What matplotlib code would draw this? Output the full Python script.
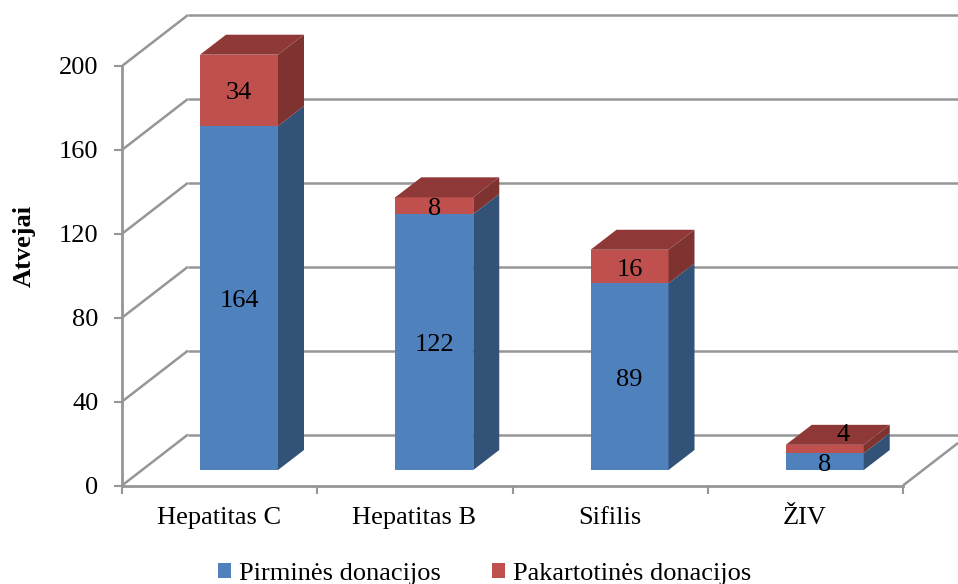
import matplotlib.pyplot as plt
from matplotlib.patches import Patch, Polygon

categories = ['Hepatitas C', 'Hepatitas B', 'Sifilis', 'ŽIV']
pirmines = [164, 122, 89, 8]
pakartotines = [34, 8, 16, 4]
y_ticks = [0, 40, 80, 120, 160, 200]

W, H = 958, 584
GRAY = '#969696'
BLUE, BLUE_SIDE = '#4F81BD', '#325278'
RED, RED_SIDE, RED_TOP = '#C0504D', '#7E3331', '#8E3937'

plt.rcParams['font.family'] = ['Liberation Serif', 'DejaVu Serif']
plt.rcParams['font.size'] = 19

fig = plt.figure(figsize=(W / 100, H / 100), dpi=100)
# front plane of the fake 3d box, in pixels of the reference
left, right, top, bottom = 122, 903, 66, 485.5
ax = fig.add_axes([left / W, 1 - bottom / H, (right - left) / W, (bottom - top) / H])
ax.set_xlim(0, len(categories))
ax.set_ylim(0, 200)

# pixel to data helpers for the oblique offsets
px_x = len(categories) / (right - left)
px_y = 200 / (bottom - top)

wall_dx, wall_dy = 66 * px_x, 51 * px_y
side_dx, side_dy = 26 * px_x, 20 * px_y
bar_x0, bar_w = 78 * px_x, 78 * px_x
bar_y0 = 15.5 * px_y
fig_right = (W - left) * px_x
text_shift = -3 * px_y

line_kw = dict(color=GRAY, lw=1.8, clip_on=False, zorder=1, solid_capstyle='butt')

# back wall gridlines and the slanted lines on the left wall
for t in y_ticks:
    ax.plot([0, wall_dx], [t, t + wall_dy], **line_kw)
    ax.plot([wall_dx, fig_right], [t + wall_dy, t + wall_dy], **line_kw)

# right edge of the floor
n = len(categories)
floor_end = fig_right - n
ax.plot([n, n + floor_end], [0, floor_end / wall_dx * wall_dy], **line_kw)


def face(points, color):
    ax.add_patch(Polygon(points, closed=True, fc=color, ec='none', clip_on=False, zorder=3))


def draw_segment(x, y0, y1, front, side):
    face([(x, y0), (x + bar_w, y0), (x + bar_w, y1), (x, y1)], front)
    face([(x + bar_w, y0), (x + bar_w + side_dx, y0 + side_dy),
          (x + bar_w + side_dx, y1 + side_dy), (x + bar_w, y1)], side)


for i, (a, b) in enumerate(zip(pirmines, pakartotines)):
    x = i + bar_x0
    y0 = bar_y0
    draw_segment(x, y0, y0 + a, BLUE, BLUE_SIDE)
    draw_segment(x, y0 + a, y0 + a + b, RED, RED_SIDE)
    t = y0 + a + b
    face([(x, t), (x + bar_w, t), (x + bar_w + side_dx, t + side_dy), (x + side_dx, t + side_dy)], RED_TOP)

    cx = x + bar_w / 2
    ax.text(cx, y0 + a / 2 + text_shift, str(a), ha='center', va='center', color='black', zorder=5)
    # the small last label sits on the top face
    if b < 8:
        ax.text(cx + 18 * px_x, y0 + a + b / 2 + 17 * px_y + text_shift, str(b), ha='center', va='center', color='black', zorder=5)
    else:
        ax.text(cx, y0 + a + b / 2 + text_shift, str(b), ha='center', va='center', color='black', zorder=5)

for s in ['top', 'right']:
    ax.spines[s].set_visible(False)
for s in ['left', 'bottom']:
    ax.spines[s].set_color(GRAY)
    ax.spines[s].set_linewidth(2)
    ax.spines[s].set_zorder(2)

ax.set_yticks(y_ticks)
ax.set_xticks(range(n + 1))
ax.set_xticklabels([])
ax.tick_params(axis='both', color=GRAY, width=1.5, length=6)
ax.tick_params(axis='y', pad=11, labelsize=19)

for i, c in enumerate(categories):
    ax.text(i + 0.497, -15.5, c, ha='center', va='center', clip_on=False)

ax.set_ylabel('Atvejai', fontweight='bold', fontsize=19)
ax.yaxis.set_label_coords(-0.11, 0.572)

handles = [Patch(fc=BLUE, ec='none'), Patch(fc=RED, ec='none')]
fig.legend(handles, ['Pirminės donacijos', 'Pakartotinės donacijos'], loc='center',
           bbox_to_anchor=(484.5 / W, 1 - 574 / H), ncol=2, frameon=False, fontsize=19,
           handlelength=0.5, handleheight=0.5, handletextpad=0.3, columnspacing=1.95,
           borderpad=0, borderaxespad=0)

fig.savefig('out.png', dpi=100, facecolor='white')
